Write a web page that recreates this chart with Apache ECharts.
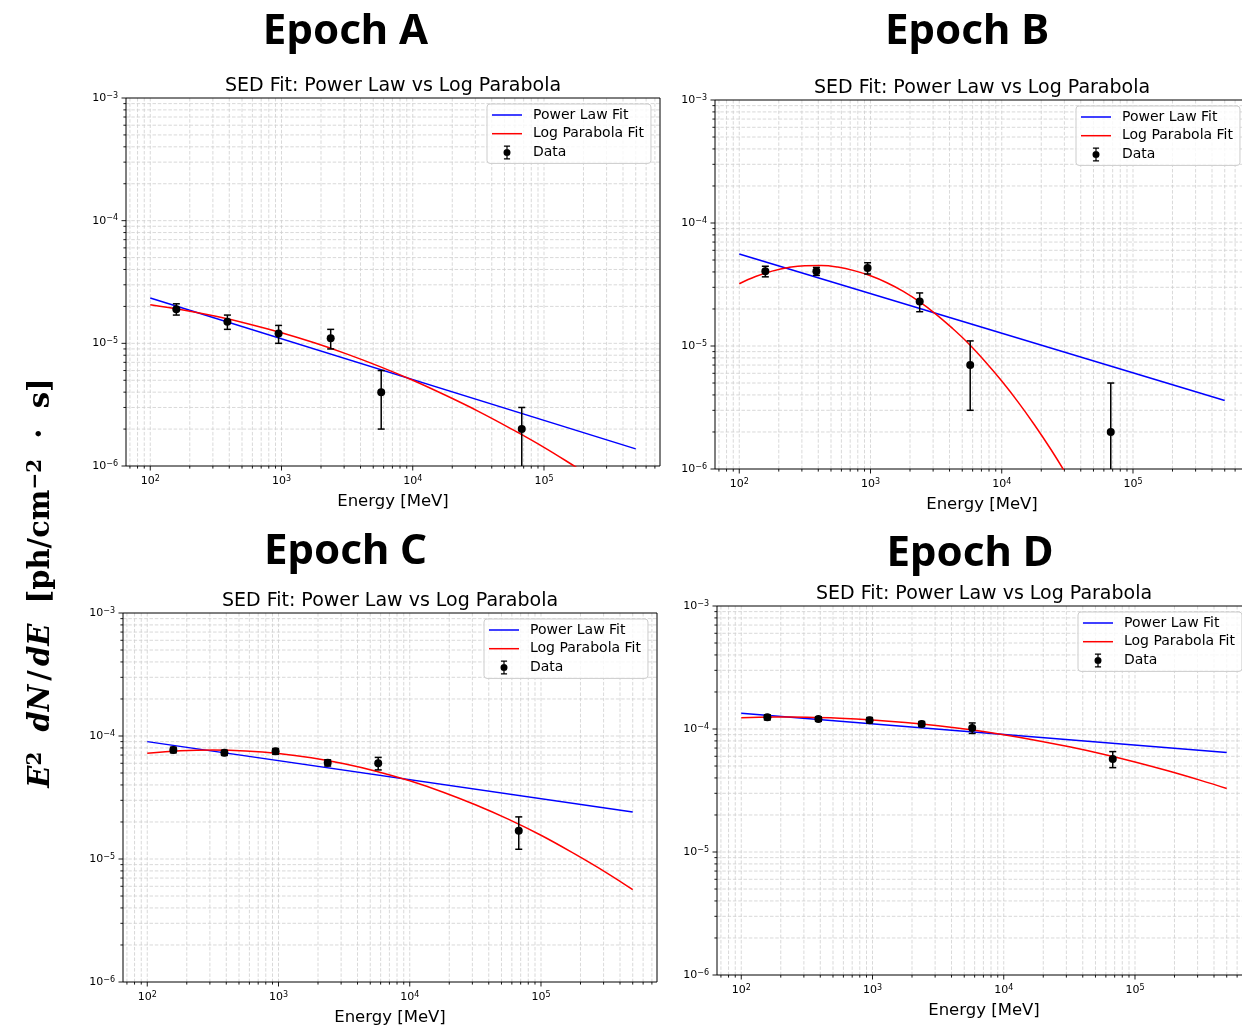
<!DOCTYPE html>
<html>
<head>
<meta charset="utf-8">
<script src="https://cdn.jsdelivr.net/npm/echarts@6/dist/echarts.min.js"></script>
<style>
  html, body { margin: 0; padding: 0; background: #ffffff; }
  #chart { width: 1242px; height: 1028px; }
</style>
</head>
<body>
<div id="chart"></div>
<script>
// ---- Spectral data --------------------------------------------------------
// Photon energies of the six spectral bins [MeV]
const binEnergies = [158, 387, 950, 2370, 5750, 67700];
// Energies at which the fitted models are sampled [MeV]
const modelEnergies = [100, 178, 316, 562, 1000, 1778, 3162, 5623, 10000, 17783, 31623, 56234, 100000, 177828, 316228, 500000];
// Finer sampling for the strongly curved Epoch B model
const modelEnergiesFine = [100, 133, 178, 237, 316, 422, 562, 750, 1000, 1334, 1778, 2371, 3162, 4217, 5623, 7499, 10000, 13335, 17783, 23714, 31623, 42170, 56234];
const powerLawEnergies = [100, 500000];

const epochNames = ['Epoch A', 'Epoch B', 'Epoch C', 'Epoch D'];
const panelTitle = 'SED Fit: Power Law vs Log Parabola';
const seriesNames = ['Power Law Fit', 'Log Parabola Fit', 'Data'];
const xTickExponents = [2, 3, 4, 5];
const yTickExponents = [-6, -5, -4, -3];

// E^2 dN/dE [ph cm^-2 s^-1] and 1-sigma errors, per epoch
const fluxA = [1.9e-5, 1.5e-5, 1.2e-5, 1.1e-5, 4.0e-6, 2.0e-6];
const errA = [2.0e-6, 2.0e-6, 2.0e-6, 2.0e-6, 2.0e-6, 1.0e-6];
const powerLawA = [2.34e-5, 1.38e-6];
const logParabolaA = [2.06e-5, 1.87e-5, 1.66e-5, 1.44e-5, 1.22e-5, 1.01e-5, 8.17e-6, 6.46e-6, 5.00e-6, 3.77e-6, 2.79e-6, 2.01e-6, 1.42e-6, 9.7e-7, 6.6e-7, 4.7e-7];

const fluxB = [4.05e-5, 4.05e-5, 4.3e-5, 2.3e-5, 7.0e-6, 2.0e-6];
const errB = [4.0e-6, 3.0e-6, 4.5e-6, 4.0e-6, 4.0e-6, 3.0e-6];
const powerLawB = [5.6e-5, 3.61e-6];
const logParabolaB = [3.21e-5, 3.67e-5, 4.06e-5, 4.35e-5, 4.50e-5, 4.51e-5, 4.38e-5, 4.10e-5, 3.72e-5, 3.27e-5, 2.78e-5, 2.28e-5, 1.81e-5, 1.39e-5, 1.04e-5, 7.46e-6, 5.19e-6, 3.50e-6, 2.28e-6, 1.44e-6, 8.76e-7, 5.17e-7, 2.95e-7];

const fluxC = [7.7e-5, 7.3e-5, 7.5e-5, 6.05e-5, 6.0e-5, 1.7e-5];
const errC = [4.0e-6, 3.5e-6, 4.0e-6, 3.5e-6, 7.0e-6, 5.0e-6];
const powerLawC = [9.0e-5, 2.41e-5];
const logParabolaC = [7.23e-5, 7.57e-5, 7.69e-5, 7.56e-5, 7.21e-5, 6.65e-5, 5.94e-5, 5.15e-5, 4.32e-5, 3.51e-5, 2.76e-5, 2.11e-5, 1.56e-5, 1.11e-5, 7.72e-6, 5.63e-6];

const fluxD = [1.245e-4, 1.205e-4, 1.18e-4, 1.1e-4, 1.02e-4, 5.7e-5];
const errD = [6.0e-6, 5.0e-6, 6.0e-6, 5.0e-6, 1.0e-5, 8.5e-6];
const powerLawD = [1.34e-4, 6.43e-5];
const logParabolaD = [1.236e-4, 1.25e-4, 1.246e-4, 1.224e-4, 1.185e-4, 1.13e-4, 1.062e-4, 9.84e-5, 8.98e-5, 8.08e-5, 7.16e-5, 6.26e-5, 5.39e-5, 4.57e-5, 3.82e-5, 3.28e-5];

// ---- Layout ---------------------------------------------------------------
const X_MIN = 65.33, X_MAX = 765500, Y_MIN = 1e-6, Y_MAX = 1e-3;

const panels = [
  { title: epochNames[0], flux: fluxA, err: errA, pl: powerLawA, lp: logParabolaA, lpE: modelEnergies,
    grid: { left: 126, top: 98, width: 534, height: 368 }, legend: { left: 487, top: 104 }, head: { x: 345.5, y: 32 } },
  { title: epochNames[1], flux: fluxB, err: errB, pl: powerLawB, lp: logParabolaB, lpE: modelEnergiesFine,
    grid: { left: 715, top: 100, width: 534, height: 369 }, legend: { left: 1076, top: 106 }, head: { x: 967, y: 32 } },
  { title: epochNames[2], flux: fluxC, err: errC, pl: powerLawC, lp: logParabolaC, lpE: modelEnergies,
    grid: { left: 123, top: 613, width: 534, height: 369 }, legend: { left: 484, top: 619 }, head: { x: 345.5, y: 552 } },
  { title: epochNames[3], flux: fluxD, err: errD, pl: powerLawD, lp: logParabolaD, lpE: modelEnergies,
    grid: { left: 717, top: 606, width: 534, height: 369 }, legend: { left: 1078, top: 612 }, head: { x: 970, y: 554 } }
];

// ---- Helpers --------------------------------------------------------------
function logGridValues(a, b) {
  const out = [];
  for (let k = Math.floor(Math.log10(a)); k <= Math.ceil(Math.log10(b)); k++) {
    for (let m = 1; m <= 9; m++) {
      const v = m * Math.pow(10, k);
      if (v >= a * (1 - 1e-9) && v <= b * (1 + 1e-9)) out.push(v);
    }
  }
  return out;
}
function isPowerOfTen(v) {
  const p = Math.log10(v);
  return Math.abs(p - Math.round(p)) < 1e-6;
}
function powerLabel(allowed) {
  return function (value) {
    const p = Math.log10(value);
    const r = Math.round(p);
    if (Math.abs(p - r) > 1e-6 || allowed.indexOf(r) < 0) return '';
    const exp = r < 0 ? '\u2212' + (-r) : String(r);
    return '{b|10}{s|' + exp + '}';
  };
}
const tickRich = {
  b: { fontFamily: 'DejaVu Sans', fontSize: 11, lineHeight: 13, color: '#000' },
  s: { fontFamily: 'DejaVu Sans', fontSize: 8, lineHeight: 7, verticalAlign: 'top', color: '#000' }
};

// Dashed major/minor grid, outward ticks and the axes frame
function frameRenderer() {
  const xs = logGridValues(X_MIN, X_MAX);
  const ys = logGridValues(Y_MIN, Y_MAX);
  const gridStyle = { stroke: '#cfcfcf', lineWidth: 0.8, lineDash: [3.5, 1.8] };
  const tickStyle = { stroke: '#000', lineWidth: 0.9 };
  return function (params, api) {
    const lo = api.coord([X_MIN, Y_MIN]);
    const hi = api.coord([X_MAX, Y_MAX]);
    const children = [];
    xs.forEach(function (v) {
      const x = api.coord([v, Y_MIN])[0];
      children.push({ type: 'line', shape: { x1: x, y1: hi[1], x2: x, y2: lo[1] }, style: gridStyle });
      const len = isPowerOfTen(v) ? 4.5 : 2.6;
      children.push({ type: 'line', shape: { x1: x, y1: lo[1], x2: x, y2: lo[1] + len }, style: tickStyle });
    });
    ys.forEach(function (v) {
      const y = api.coord([X_MIN, v])[1];
      if (v > Y_MIN * 1.0001 && v < Y_MAX * 0.9999) {
        children.push({ type: 'line', shape: { x1: lo[0], y1: y, x2: hi[0], y2: y }, style: gridStyle });
      }
      const len = isPowerOfTen(v) ? 4.5 : 2.6;
      children.push({ type: 'line', shape: { x1: lo[0] - len, y1: y, x2: lo[0], y2: y }, style: tickStyle });
    });
    children.push({ type: 'rect', shape: { x: lo[0], y: hi[1], width: hi[0] - lo[0], height: lo[1] - hi[1] },
      style: { fill: null, stroke: '#000', lineWidth: 1 } });
    return { type: 'group', children: children };
  };
}

// Vertical error bars with caps
function errorBarRenderer(params, api) {
  const x = api.value(0), y = api.value(1), e = api.value(2);
  const low = Math.max(y - e, Y_MIN);
  const top = api.coord([x, y + e]);
  const bot = api.coord([x, low]);
  const cap = 3.5;
  const style = { stroke: '#000', lineWidth: 1.5 };
  const children = [
    { type: 'line', shape: { x1: top[0], y1: top[1], x2: bot[0], y2: bot[1] }, style: style },
    { type: 'line', shape: { x1: top[0] - cap, y1: top[1], x2: top[0] + cap, y2: top[1] }, style: style }
  ];
  if (y - e > Y_MIN * 1.0001) {
    children.push({ type: 'line', shape: { x1: bot[0] - cap, y1: bot[1], x2: bot[0] + cap, y2: bot[1] }, style: style });
  }
  return { type: 'group', children: children };
}

const lineIcon = 'path://M0,0 H30 V1.5 H0 Z';
const dataIcon = 'path://M5.3,0 H6.7 V16 H5.3 Z M2.5,0 H9.5 V1.4 H2.5 Z M2.5,14.6 H9.5 V16 H2.5 Z M10,8 A4,4 0 1 1 2,8 A4,4 0 1 1 10,8 Z';

// ---- Option ---------------------------------------------------------------
const grids = [], xAxes = [], yAxes = [], legends = [], series = [], graphics = [];

panels.forEach(function (p, i) {
  grids.push({ left: p.grid.left, top: p.grid.top, width: p.grid.width, height: p.grid.height,
    show: false, containLabel: false, outerBoundsMode: 'none' });
  xAxes.push({
    type: 'log', logBase: 10, gridIndex: i, min: X_MIN, max: X_MAX,
    axisLine: { show: false }, axisTick: { show: false }, splitLine: { show: false },
    axisLabel: { formatter: powerLabel(xTickExponents), rich: tickRich, margin: 9 },
    name: 'Energy [MeV]', nameLocation: 'middle', nameGap: 27,
    nameTextStyle: { fontFamily: 'DejaVu Sans', fontSize: 16.5, color: '#000' }
  });
  yAxes.push({
    type: 'log', logBase: 10, gridIndex: i, min: Y_MIN, max: Y_MAX,
    axisLine: { show: false }, axisTick: { show: false }, splitLine: { show: false },
    axisLabel: { formatter: powerLabel(yTickExponents), rich: tickRich, margin: 8 }
  });
  legends.push({
    left: p.legend.left, top: p.legend.top, orient: 'vertical', selectedMode: false,
    itemWidth: 30, itemHeight: 14, itemGap: 4.7, padding: [4, 7, 4, 5],
    backgroundColor: 'rgba(255,255,255,0.8)', borderColor: '#cccccc', borderWidth: 1, borderRadius: 3,
    textStyle: { fontFamily: 'DejaVu Sans', fontSize: 14, color: '#000', padding: [0, 0, 0, 6] },
    data: [{ name: seriesNames[0], icon: lineIcon }, { name: seriesNames[1], icon: lineIcon },
      { name: seriesNames[2], icon: dataIcon }]
  });

  series.push({
    type: 'custom', name: 'frame-' + i, xAxisIndex: i, yAxisIndex: i, z: 1, silent: true,
    data: [[1000, 1e-4]], encode: { x: 0, y: 1 }, renderItem: frameRenderer()
  });
  series.push({
    type: 'line', name: seriesNames[0], xAxisIndex: i, yAxisIndex: i, z: 2, silent: true,
    data: powerLawEnergies.map(function (e, k) { return [e, p.pl[k]]; }),
    symbol: 'none', showSymbol: false,
    lineStyle: { color: '#0000ff', width: 1.5 }, itemStyle: { color: '#0000ff' }
  });
  series.push({
    type: 'line', name: seriesNames[1], xAxisIndex: i, yAxisIndex: i, z: 2, silent: true,
    data: p.lpE.map(function (e, k) { return [e, p.lp[k]]; }),
    symbol: 'none', showSymbol: false, smooth: 0.4,
    lineStyle: { color: '#ff0000', width: 1.5 }, itemStyle: { color: '#ff0000' }
  });
  series.push({
    type: 'custom', name: 'errors-' + i, xAxisIndex: i, yAxisIndex: i, z: 3, silent: true,
    data: binEnergies.map(function (e, k) { return [e, p.flux[k], p.err[k]]; }),
    encode: { x: 0, y: 1 }, renderItem: errorBarRenderer
  });
  series.push({
    type: 'scatter', name: seriesNames[2], xAxisIndex: i, yAxisIndex: i, z: 4, silent: true,
    data: binEnergies.map(function (e, k) { return [e, p.flux[k]]; }),
    symbol: 'circle', symbolSize: 8, itemStyle: { color: '#000', opacity: 1 }
  });

  graphics.push({
    type: 'text', x: p.head.x, y: p.head.y, silent: true,
    style: { text: p.title, fontFamily: 'Noto Sans', fontWeight: 'bold', fontSize: 42,
      fill: '#000', align: 'center', verticalAlign: 'middle' }
  });
  graphics.push({
    type: 'text', x: p.grid.left + p.grid.width / 2, y: p.grid.top - 11.6, silent: true,
    style: { text: panelTitle, fontFamily: 'DejaVu Sans', fontSize: 19,
      fill: '#000', align: 'center', verticalAlign: 'middle' }
  });
});

// Shared y-axis label
graphics.push({
  type: 'text', x: 41.5, y: 583, rotation: Math.PI / 2, silent: true,
  style: {
    text: '{i|E}{s|2}{r|  }{i|dN}{sl|/}{i|dE}{r|  [ph/cm}{s|\u22122}{r|  \u00b7  s]}',
    align: 'center', verticalAlign: 'middle', fill: '#000',
    rich: {
      i: { fontFamily: 'DejaVu Serif', fontStyle: 'italic', fontWeight: 'bold', fontSize: 29, lineHeight: 31, fill: '#000' },
      r: { fontFamily: 'DejaVu Serif', fontWeight: 'bold', fontSize: 29, lineHeight: 31, fill: '#000' },
      sl: { fontFamily: 'DejaVu Serif', fontWeight: 'bold', fontSize: 29, lineHeight: 31, fill: '#000', padding: [0, 4, 0, 4] },
      s: { fontFamily: 'DejaVu Serif', fontWeight: 'bold', fontSize: 20, lineHeight: 17, verticalAlign: 'top', fill: '#000' }
    }
  }
});

const chart = echarts.init(document.getElementById('chart'), null, { renderer: 'canvas', width: 1242, height: 1028 });
chart.setOption({
  backgroundColor: '#ffffff',
  animation: false,
  grid: grids,
  xAxis: xAxes,
  yAxis: yAxes,
  legend: legends,
  series: series,
  graphic: graphics
});
</script>
</body>
</html>
